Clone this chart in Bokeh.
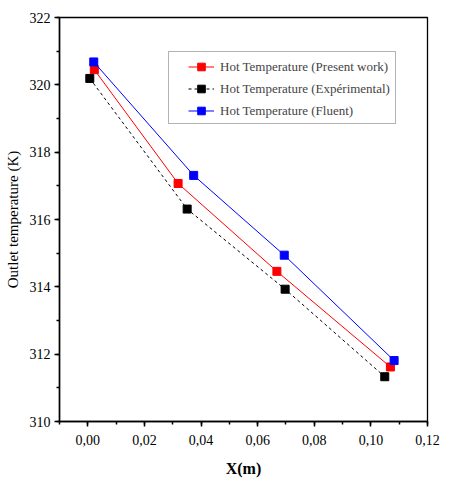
from bokeh.plotting import figure
from bokeh.models import Legend, LegendItem, SingleIntervalTicker, CustomJSTickFormatter, Range1d, BoxAnnotation
from bokeh.embed import file_html
from bokeh.resources import INLINE

# Data
x_present = [0.0023, 0.0319, 0.0668, 0.1069]
y_present = [320.45, 317.07, 314.46, 311.62]
x_exp = [0.0007, 0.0351, 0.0697, 0.1049]
y_exp = [320.19, 316.31, 313.93, 311.33]
x_fluent = [0.0021, 0.0374, 0.0694, 0.1082]
y_fluent = [320.68, 317.31, 314.94, 311.81]
labels = ["Hot Temperature (Present work)", "Hot Temperature (Exp\u00e9rimental)", "Hot Temperature (Fluent)"]

p = figure(width=445, height=482, output_backend="svg", toolbar_location=None,
           x_range=Range1d(-0.01, 0.12), y_range=Range1d(310, 322),
           min_border_left=59, min_border_top=17, min_border_right=18, min_border_bottom=61)
p.xgrid.visible = False
p.ygrid.visible = False
p.outline_line_color = "black"
p.outline_line_width = 1.3
p.background_fill_color = "white"
p.border_fill_color = "white"

r1l = p.line(x_present, y_present, line_color="#ff0000", line_width=1)
r1m = p.scatter(x_present, y_present, marker="square", size=8, fill_color="#ff0000", line_color="#ff0000")
r2l = p.line(x_exp, y_exp, line_color="black", line_width=1, line_dash="3 3")
r2m = p.scatter(x_exp, y_exp, marker="square", size=8, fill_color="black", line_color="black")
r3l = p.line(x_fluent, y_fluent, line_color="#0000ff", line_width=1)
r3m = p.scatter(x_fluent, y_fluent, marker="square", size=8, fill_color="#0000ff", line_color="#0000ff")

p.xaxis.ticker = SingleIntervalTicker(interval=0.02, num_minor_ticks=2)
p.yaxis.ticker = SingleIntervalTicker(interval=2, num_minor_ticks=2)
p.xaxis.formatter = CustomJSTickFormatter(code="return tick.toFixed(2).replace('.', ',');")
for ax in (p.xaxis[0], p.yaxis[0]):
    ax.axis_line_width = 1.5
    ax.axis_line_color = "black"
    ax.major_tick_out = 5
    ax.major_tick_in = 0
    ax.minor_tick_out = 3
    ax.minor_tick_in = 0
    ax.major_tick_line_width = 1.5
    ax.minor_tick_line_width = 1.5
    ax.major_label_text_font = "Liberation Sans Narrow"
    ax.major_label_text_font_size = "14px"
    ax.major_label_text_color = "black"
    ax.axis_label_text_font = "Liberation Serif"
    ax.axis_label_text_color = "black"

p.xaxis.axis_label = "X(m)"
p.xaxis.axis_label_text_font_style = "bold"
p.xaxis.axis_label_text_font_size = "16px"
p.xaxis.axis_label_standoff = 12
p.xaxis.major_label_standoff = 8
p.yaxis.axis_label = "Outlet temperature (K)"
p.yaxis.axis_label_text_font_style = "normal"
p.yaxis.axis_label_text_font_size = "15px"
p.yaxis.axis_label_standoff = 6
p.yaxis.major_label_standoff = 4

box = BoxAnnotation(left=109, right=336, top=370, bottom=298,
                    left_units="screen", right_units="screen", top_units="screen", bottom_units="screen",
                    fill_color="white", fill_alpha=1, line_color="black", line_width=1)
p.add_layout(box)

legend = Legend(items=[
    LegendItem(label=labels[0], renderers=[r1l, r1m]),
    LegendItem(label=labels[1], renderers=[r2l, r2m]),
    LegendItem(label=labels[2], renderers=[r3l, r3m]),
], location=(126, 298))
legend.border_line_alpha = 0
legend.background_fill_alpha = 0
legend.label_text_font = "Liberation Serif"
legend.label_text_font_size = "13px"
legend.label_standoff = 6
legend.glyph_width = 26
legend.glyph_height = 19
legend.label_height = 19
legend.spacing = 3
legend.padding = 3
legend.margin = 0
p.add_layout(legend, "center")

open("out.html", "w").write(file_html(p, INLINE))
